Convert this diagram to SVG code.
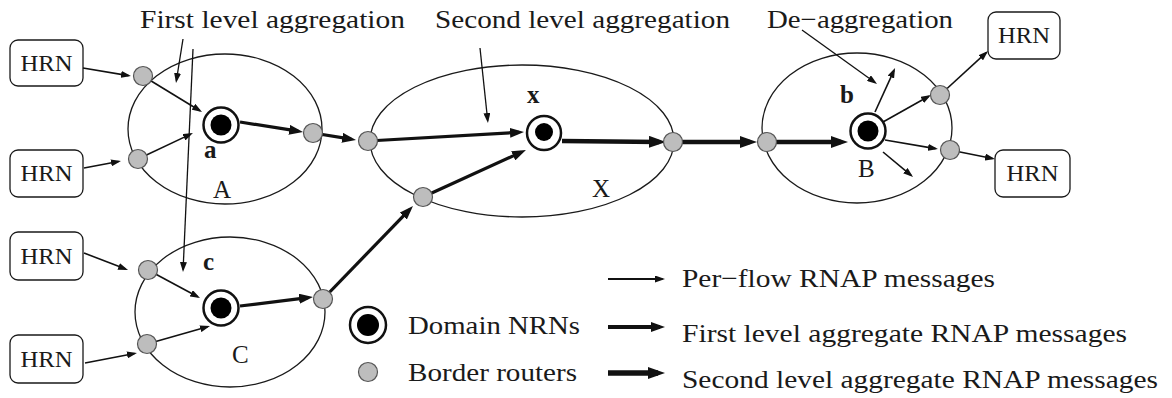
<svg xmlns="http://www.w3.org/2000/svg" width="1172" height="398" viewBox="0 0 1172 398">
<style>
text{font-family:"Liberation Serif","Times New Roman",serif;fill:#1a1a1a}
.t{font-size:26px}
.h{font-size:23px;text-anchor:middle}
.lb{font-size:25px}
.bd{font-weight:bold}
.dom{fill:none;stroke:#1a1a1a;stroke-width:1.3}
.hrn{fill:#fff;stroke:#1a1a1a;stroke-width:1.3}
.rt{fill:#bdbdbd;stroke:#555;stroke-width:1.2}
.nrnO{fill:#fff;stroke:#111;stroke-width:2.5}
.nrnI{fill:#000}
.thin{stroke:#111;stroke-width:1.6;fill:none;marker-end:url(#mThin)}
.ptr{stroke:#111;stroke-width:1.3;fill:none;marker-end:url(#mThin)}
.med{stroke:#111;stroke-width:3.2;fill:none;marker-end:url(#mMed)}
.thk{stroke:#111;stroke-width:4.5;fill:none;marker-end:url(#mThk)}
</style>
<defs>
<marker id="mThin" viewBox="0 0 10 7" markerUnits="userSpaceOnUse" markerWidth="10" markerHeight="7" refX="7.5" refY="3.5" orient="auto"><path d="M0,0L10,3.5L0,7z" fill="#111"/></marker>
<marker id="mMed" viewBox="0 0 14 10" markerUnits="userSpaceOnUse" markerWidth="14" markerHeight="10" refX="9" refY="5" orient="auto"><path d="M0,0L14,5L0,10z" fill="#111"/></marker>
<marker id="mThk" viewBox="0 0 17 12" markerUnits="userSpaceOnUse" markerWidth="17" markerHeight="12" refX="10" refY="6" orient="auto"><path d="M0,0L17,6L0,12z" fill="#111"/></marker>
</defs>
<rect width="1172" height="398" fill="#fff"/>

<!-- titles -->
<text class="t" x="140" y="28" textLength="265" lengthAdjust="spacingAndGlyphs">First level aggregation</text>
<text class="t" x="435" y="28" textLength="295" lengthAdjust="spacingAndGlyphs">Second level aggregation</text>
<text class="t" x="767" y="28" textLength="186" lengthAdjust="spacingAndGlyphs">De−aggregation</text>

<!-- domains -->
<g id="domainA"><ellipse class="dom" cx="225" cy="129" rx="97" ry="75"/><text class="lb" x="213" y="198">A</text><text class="lb bd" x="204" y="158">a</text></g>
<g id="domainC"><ellipse class="dom" cx="230" cy="312" rx="95" ry="75"/><text class="lb" x="232" y="363">C</text><text class="lb bd" x="203" y="270">c</text></g>
<g id="domainX"><ellipse class="dom" cx="522" cy="141" rx="152" ry="76"/><text class="lb" x="592" y="197">X</text><text class="lb bd" x="527" y="103">x</text></g>
<g id="domainB"><ellipse class="dom" cx="857" cy="128" rx="95" ry="75"/><text class="lb" x="858" y="177">B</text><text class="lb bd" x="840" y="103">b</text></g>

<!-- HRN boxes -->
<g id="hrn1"><rect class="hrn" x="10" y="40" width="73" height="46" rx="8"/><text class="h" x="46.5" y="70.5" textLength="52" lengthAdjust="spacingAndGlyphs">HRN</text></g>
<g id="hrn2"><rect class="hrn" x="10" y="150" width="73" height="47" rx="8"/><text class="h" x="46.5" y="181" textLength="52" lengthAdjust="spacingAndGlyphs">HRN</text></g>
<g id="hrn3"><rect class="hrn" x="10" y="232" width="73" height="48" rx="8"/><text class="h" x="46.5" y="263.5" textLength="52" lengthAdjust="spacingAndGlyphs">HRN</text></g>
<g id="hrn4"><rect class="hrn" x="10" y="335" width="73" height="48" rx="8"/><text class="h" x="46.5" y="366.5" textLength="52" lengthAdjust="spacingAndGlyphs">HRN</text></g>
<g id="hrn5"><rect class="hrn" x="988" y="12" width="72" height="47" rx="8"/><text class="h" x="1024" y="43" textLength="52" lengthAdjust="spacingAndGlyphs">HRN</text></g>
<g id="hrn6"><rect class="hrn" x="995" y="150" width="75" height="47" rx="8"/><text class="h" x="1032.5" y="181" textLength="52" lengthAdjust="spacingAndGlyphs">HRN</text></g>

<!-- connectors -->
<g id="connectors">
<line class="thin" x1="83" y1="68" x2="128.5" y2="75.6"/>
<line class="thin" x1="84" y1="168" x2="118.5" y2="161.5"/>
<line class="thin" x1="143" y1="76" x2="199.9" y2="110.7"/>
<line class="thin" x1="138" y1="159" x2="190.7" y2="134.1"/>
<line class="thin" x1="84" y1="253" x2="125.7" y2="269.1"/>
<line class="thin" x1="85" y1="363" x2="134.5" y2="353.5"/>
<line class="thin" x1="148" y1="270" x2="197.8" y2="296.8"/>
<line class="thin" x1="147" y1="344" x2="207.6" y2="326.7"/>
<line class="thin" x1="875" y1="112" x2="894" y2="70.3"/>
<line class="thin" x1="883" y1="122" x2="928.8" y2="96.2"/>
<line class="thin" x1="885" y1="140" x2="935.5" y2="148.6"/>
<line class="thin" x1="883" y1="152" x2="911.1" y2="175.4"/>
<line class="thin" x1="940" y1="95" x2="986.2" y2="52.7"/>
<line class="thin" x1="950" y1="150" x2="992.5" y2="158.5"/>
<line class="ptr" x1="183" y1="39" x2="176.4" y2="80.5"/>
<line class="ptr" x1="193" y1="49" x2="183.1" y2="269.5"/>
<line class="ptr" x1="480" y1="48" x2="487.7" y2="120.5"/>
<line class="ptr" x1="802" y1="30" x2="875" y2="82.5"/>
<line class="med" x1="240" y1="122" x2="298.1" y2="131.2"/>
<line class="med" x1="313" y1="133" x2="351.1" y2="139.2"/>
<line class="med" x1="368" y1="141" x2="519" y2="132.3"/>
<line class="med" x1="323" y1="299" x2="409.5" y2="209.6"/>
<line class="med" x1="423" y1="197" x2="521.4" y2="152.1"/>
<line class="med" x1="240" y1="306" x2="308" y2="297.6"/>
<line class="thk" x1="562" y1="141" x2="659" y2="141.9"/>
<line class="thk" x1="673" y1="142" x2="750" y2="142"/>
<line class="thk" x1="767" y1="142" x2="841" y2="142"/>
<line class="thin" x1="608" y1="279" x2="662.5" y2="279" style="stroke-width:2"/>
<line class="med" x1="608" y1="327" x2="660" y2="327" style="stroke-width:4"/>
<line class="thk" x1="608" y1="373" x2="658" y2="373" style="stroke-width:5.5"/>
</g>

<!-- border routers -->
<g id="routers">
<circle class="rt" cx="143" cy="76" r="9.5"/>
<circle class="rt" cx="138" cy="159" r="9.5"/>
<circle class="rt" cx="313" cy="133" r="9.5"/>
<circle class="rt" cx="368" cy="141" r="9.5"/>
<circle class="rt" cx="148" cy="270" r="9.5"/>
<circle class="rt" cx="147" cy="344" r="9.5"/>
<circle class="rt" cx="323" cy="299" r="9.5"/>
<circle class="rt" cx="673" cy="142" r="9.5"/>
<circle class="rt" cx="423" cy="197" r="9.5"/>
<circle class="rt" cx="767" cy="142" r="9.5"/>
<circle class="rt" cx="940" cy="95" r="9.5"/>
<circle class="rt" cx="950" cy="150" r="9.5"/>
</g>

<!-- domain NRNs -->
<g id="nrnA"><circle class="nrnO" cx="221" cy="125" r="17.5"/><circle class="nrnI" cx="221" cy="125" r="10.5"/></g>
<g id="nrnC"><circle class="nrnO" cx="221" cy="308" r="17.5"/><circle class="nrnI" cx="221" cy="308" r="10.5"/></g>
<g id="nrnX"><circle class="nrnO" cx="544" cy="133" r="17"/><circle class="nrnI" cx="544" cy="132" r="9"/></g>
<g id="nrnB"><circle class="nrnO" cx="868" cy="131" r="17.5"/><circle class="nrnI" cx="868" cy="131" r="10.5"/></g>

<!-- legend -->
<g id="legend">
<circle class="nrnO" cx="368" cy="325" r="18"/><circle class="nrnI" cx="368" cy="325" r="11"/>
<circle class="rt" cx="368" cy="372" r="9.5"/>
<text class="t" x="408" y="334" textLength="172" lengthAdjust="spacingAndGlyphs">Domain NRNs</text>
<text class="t" x="408" y="381" textLength="169" lengthAdjust="spacingAndGlyphs">Border routers</text>
<text class="t" x="682" y="287" textLength="313" lengthAdjust="spacingAndGlyphs">Per−flow RNAP messages</text>
<text class="t" x="682" y="342" textLength="445" lengthAdjust="spacingAndGlyphs">First level aggregate RNAP messages</text>
<text class="t" x="682" y="388" textLength="476" lengthAdjust="spacingAndGlyphs">Second level aggregate RNAP messages</text>
</g>
</svg>
